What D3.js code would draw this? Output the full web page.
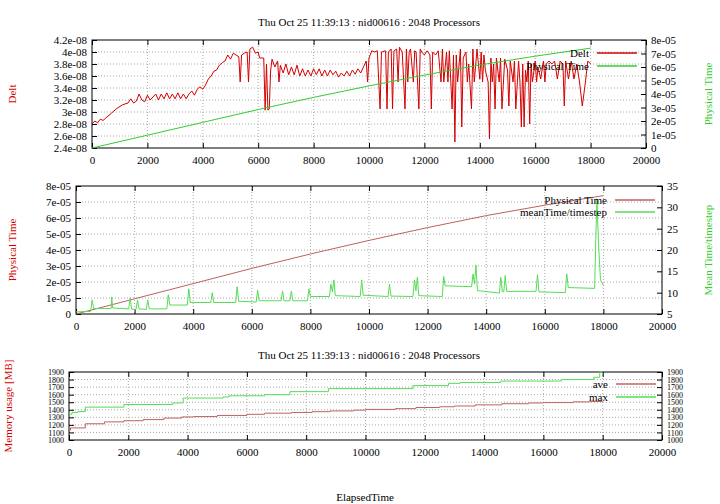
<!DOCTYPE html>
<html><head><meta charset="utf-8">
<script src="https://cdn.jsdelivr.net/npm/d3@7"></script>
<style>
body{margin:0;background:#fff}
text{font-family:"Liberation Serif","DejaVu Serif",serif;font-size:11px}
</style></head>
<body><svg id="c" width="720" height="504"></svg>
<script>
let title = "Thu Oct 25 11:39:13 : nid00616 : 2048 Processors"

let deltX = [0,100,200,300,400,500,700,900,1100,1300,1400,1500,1600,1700,1800,1900,2000,2100,2200,2300,2400,2500,2600,2700,2800,2900,3000,3100,3200,3300,3400,3500,3600,3700,3800,3900,4000,4100,4200,4300,4400,4500,4600,4700,4800,4900,5000,5100,5200,5300,5350,5400,5500,5600,5650,5700,5800,5900,6000,6050,6200,6250,6300,6350,6400,6450,6500,6600,6700,6750,6800,6900,7000,7100,7200,7300,7400,7500,7600,7700,7800,7900,8000,8100,8200,8300,8400,8500,8600,8700,8800,8900,9000,9100,9200,9300,9400,9500,9600,9700,9800,9900,9950,10000,10100,10200,10300,10400,10450,10600,10650,10700,10800,10850,10900,11000,11050,11100,11200,11300,11350,11400,11450,11500,11600,11650,11700,11800,11850,11900,12000,12100,12200,12250,12300,12400,12500,12600,12650,12700,12800,12850,12900,13000,13050,13100,13150,13200,13300,13350,13400,13500,13550,13600,13700,13750,13800,13900,14000,14050,14100,14150,14200,14300,14350,14400,14450,14500,14550,14600,14700,14750,14800,14900,15000,15050,15100,15200,15250,15300,15400,15450,15500,15550,15600,15650,15700,15750,15800,15850,15900,16000,16050,16100,16200,16300,16350,16400,16500,16600,16700,16800,16900,17000,17050,17100,17200,17300,17400,17500,17600,17700,17800,17900,18000]
let deltY = [2.8,2.85,2.82,2.88,2.86,2.9,2.98,3.06,3.12,3.15,3.22,3.15,3.18,3.3,3.2,3.17,3.28,3.2,3.25,3.3,3.2,3.3,3.22,3.32,3.22,3.3,3.22,3.32,3.22,3.3,3.22,3.3,3.35,3.28,3.38,3.42,3.38,3.45,3.55,3.6,3.68,3.7,3.78,3.82,3.85,3.95,3.88,3.98,3.95,3.92,3.5,3.95,3.98,4.0,3.5,4.05,4.08,3.98,4.0,3.9,3.9,3.03,3.8,3.03,3.05,3.7,3.88,3.75,3.85,3.5,3.78,3.65,3.8,3.62,3.75,3.62,3.78,3.6,3.72,3.6,3.7,3.6,3.72,3.62,3.72,3.6,3.7,3.6,3.7,3.62,3.68,3.58,3.65,3.6,3.68,3.6,3.7,3.63,3.72,3.65,3.75,3.85,3.5,3.9,4.02,4.0,4.02,3.05,4.0,4.02,3.05,4.0,4.05,3.05,4.02,4.05,3.5,4.08,4.0,3.05,4.05,3.5,4.0,4.05,3.5,4.02,4.0,3.05,4.05,4.0,3.95,4.02,3.95,3.05,4.0,3.95,4.02,3.5,4.05,3.5,4.0,3.5,4.02,3.05,3.95,2.5,3.95,3.5,4.05,2.75,3.9,4.0,3.5,3.8,3.05,4.05,3.5,4.05,3.55,4.0,3.5,3.95,3.7,3.5,2.55,3.9,3.5,3.8,3.05,3.9,3.5,3.9,3.05,3.88,3.7,3.1,3.85,3.5,3.85,3.05,3.85,3.5,2.75,3.8,2.75,3.7,3.5,3.85,2.8,3.8,3.5,3.85,3.5,3.75,3.55,3.85,3.5,3.8,3.85,3.8,3.85,3.55,3.85,3.8,3.1,3.85,3.55,3.85,3.55,3.8,3.5,3.1,3.45,3.85,3.8]

let physX = [0,2000,4000,6000,8000,10000,12000,14000,16000,18000]
let physY = [0,0.95,1.9,2.85,3.75,4.6,5.4,6.15,6.8,7.4]

let meanX = [0,500,550,600,1200,1220,1250,1800,1850,1900,2050,2100,2150,2400,2450,2500,3100,3150,3200,3800,3850,3900,4600,4650,4700,5450,5500,5550,6150,6200,6250,7000,7050,7100,7300,7350,7400,7900,7950,8000,8650,8700,8750,8800,8850,9700,9750,9800,10650,10700,10750,11500,11550,11600,11650,11700,12500,12550,12600,13500,13550,13600,13650,13700,14450,14500,14550,14600,14650,14700,15700,15750,15800,16700,16750,16800,17700,17750,17780,17830,17900,18000]
let meanY = [5.5,5.6,8.3,6.3,6.3,9,6.4,6.2,8.8,6.1,6.1,8.3,6.2,6.1,8.3,6.2,6.2,9.5,7.1,7.1,10.9,7.7,7.7,10,7.7,7.7,11.4,8,7.8,10.6,8.1,8.1,10.4,8.1,8.1,10.4,8.1,8.1,10.9,9.1,9.1,12,10.2,13,9.3,9.1,13,9.4,9.1,12,9.2,9.1,13,10.4,13.6,9.3,9.1,13.8,11.6,11.4,14.4,12,16.5,10.5,9.9,13.6,10.2,10.2,14,10.3,10.3,14.2,10.2,10,14.4,11.2,11,25,32,22,13,11.8]

let memAveX = [0,50,550,1200,1850,2500,3200,3800,4200,5000,6000,6600,7500,8200,8800,9600,10000,11000,11700,12500,13000,13700,14600,15500,16000,17000,17600,18000]
let memAveY = [1130,1160,1215,1240,1255,1270,1290,1305,1310,1325,1340,1355,1365,1375,1385,1395,1405,1415,1430,1440,1450,1465,1480,1490,1495,1505,1510,1510]
let memMaxX = [0,100,300,550,1850,3500,3850,5200,5400,6600,7450,8750,11600,12800,13200,14550,16600,17700,17900,18000]
let memMaxY = [1340,1365,1375,1435,1470,1490,1555,1570,1585,1600,1640,1680,1720,1750,1760,1780,1800,1830,1900,1900]

let red = "#d40000", green = "#33cc33", brown = "#c06060", lgreen = "#55dd55"
let svg = d3.select("#c")

function fmtE(v){
    if (Math.abs(v) < 1e-20) return "0"
    let e = Math.floor(Math.log10(Math.abs(v)) + 1e-9)
    let m = +(v / Math.pow(10, e)).toFixed(2)
    let s = e < 0 ? "-" : "+"
    return m + "e" + s + String(Math.abs(e)).padStart(2, "0")
}

function panel(o){
    let x = d3.scaleLinear().domain([0, 20000]).range([o.l, o.r])
    let yl = d3.scaleLinear().domain(o.yl).range([o.b, o.t])
    let yr = d3.scaleLinear().domain(o.yr).range([o.b, o.t])
    let g = svg.append("g")
    let xt = d3.range(0, 20001, 2000)
    let ylt = d3.range(o.yl[0], o.yl[1] + o.ylStep / 2, o.ylStep)
    let yrt = d3.range(o.yr[0], o.yr[1] + o.yrStep / 2, o.yrStep)
    // grid
    xt.slice(1, -1).forEach(v => g.append("line").attr("x1", x(v)).attr("x2", x(v)).attr("y1", o.t).attr("y2", o.b)
        .attr("stroke", "#aaa").attr("stroke-dasharray", "1,2"))
    ylt.slice(1, -1).forEach(v => g.append("line").attr("x1", o.l).attr("x2", o.r).attr("y1", yl(v)).attr("y2", yl(v))
        .attr("stroke", "#aaa").attr("stroke-dasharray", "1,2"))
    g.append("rect").attr("x", o.l).attr("y", o.t).attr("width", o.r - o.l).attr("height", o.b - o.t)
        .attr("fill", "none").attr("stroke", "#000")
    g.append("g").attr("class", "xa").attr("transform", `translate(0,${o.b})`)
        .call(d3.axisBottom(x).tickValues(xt).tickSize(-5).tickPadding(8).tickFormat(d3.format("d")))
    g.append("g").attr("transform", `translate(0,${o.t})`)
        .call(d3.axisTop(x).tickValues(xt).tickSize(-5).tickFormat(""))
    g.append("g").attr("class", "ya").attr("transform", `translate(${o.l},0)`)
        .call(d3.axisLeft(yl).tickValues(ylt).tickSize(-5).tickPadding(5).tickFormat(o.fl))
    g.append("g").attr("class", "ya").attr("transform", `translate(${o.r},0)`)
        .call(d3.axisRight(yr).tickValues(yrt).tickSize(-5).tickPadding(5).tickFormat(o.fr))
    g.selectAll(".domain").remove()
    g.selectAll(".tick text").style("font-family", "Liberation Serif, serif").style("font-size", "11px")
    if (o.fs) g.selectAll(".ya .tick text").style("font-size", o.fs)
    o.series.forEach(s => {
        let sc = s.axis === "r" ? yr : yl
        let line = d3.line().x((d, i) => x(s.x[i])).y(d => sc(d * s.k))
        if (s.step) line.curve(d3.curveStepAfter)
        g.append("path").datum(s.y).attr("d", line).attr("fill", "none").attr("stroke", s.color).attr("stroke-width", 1)
    })
    o.legend.forEach((s, i) => {
        let ly = o.lgY + i * o.lgDy
        g.append("text").attr("x", o.lgX).attr("y", ly + 4).attr("text-anchor", "end").text(s.name)
        g.append("line").attr("x1", o.lgX + 8).attr("x2", o.lgX + 48).attr("y1", ly).attr("y2", ly)
            .attr("stroke", s.color).attr("stroke-width", 1.5)
    })
    let my = (o.t + o.b) / 2
    g.append("text").attr("transform", `translate(${o.ll},${my}) rotate(-90)`).attr("text-anchor", "middle")
        .attr("fill", o.llc).text(o.llt)
    if (o.rlt) g.append("text").attr("transform", `translate(${o.rl},${my}) rotate(-90)`).attr("text-anchor", "middle")
        .attr("fill", o.rlc).text(o.rlt)
}

svg.append("text").attr("x", 369).attr("y", 26).attr("text-anchor", "middle").text(title)
svg.append("text").attr("x", 369).attr("y", 359).attr("text-anchor", "middle").text(title)
svg.append("text").attr("x", 365).attr("y", 501).attr("text-anchor", "middle").text("ElapsedTime")

panel({l: 92, r: 646, t: 40, b: 148, yl: [2.4e-8, 4.2e-8], ylStep: 0.2e-8, yr: [0, 8e-5], yrStep: 1e-5,
    fl: fmtE, fr: fmtE,
    series: [{x: deltX, y: deltY, k: 1e-8, color: red}, {x: physX, y: physY, k: 1e-5, axis: "r", color: green}],
    legend: [{name: "Delt", color: red}, {name: "Physical Time", color: green}], lgX: 589, lgY: 53, lgDy: 13,
    ll: 16, llt: "Delt", llc: red, rl: 712, rlt: "Physical Time", rlc: green})

panel({l: 76, r: 662, t: 186, b: 314, yl: [0, 8e-5], ylStep: 1e-5, yr: [5, 35], yrStep: 5,
    fl: fmtE, fr: d3.format("d"),
    series: [{x: physX, y: physY, k: 1e-5, color: brown}, {x: meanX, y: meanY, k: 1, axis: "r", color: lgreen}],
    legend: [{name: "Physical Time", color: brown}, {name: "meanTime/timestep", color: lgreen}], lgX: 607, lgY: 200, lgDy: 12,
    ll: 16, llt: "Physical Time", llc: red, rl: 712, rlt: "Mean Time/timestep", rlc: green})

panel({l: 69, r: 662, t: 372, b: 440, yl: [1000, 1900], ylStep: 100, yr: [1000, 1900], yrStep: 100,
    fl: d3.format("d"), fr: d3.format("d"), fs: "8px",
    series: [{x: memAveX, y: memAveY, k: 1, step: true, color: brown}, {x: memMaxX, y: memMaxY, k: 1, step: true, color: lgreen}],
    legend: [{name: "ave", color: brown}, {name: "max", color: lgreen}], lgX: 608, lgY: 384, lgDy: 13,
    ll: 12, llt: "Memory usage [MB]", llc: red})
</script></body></html>
